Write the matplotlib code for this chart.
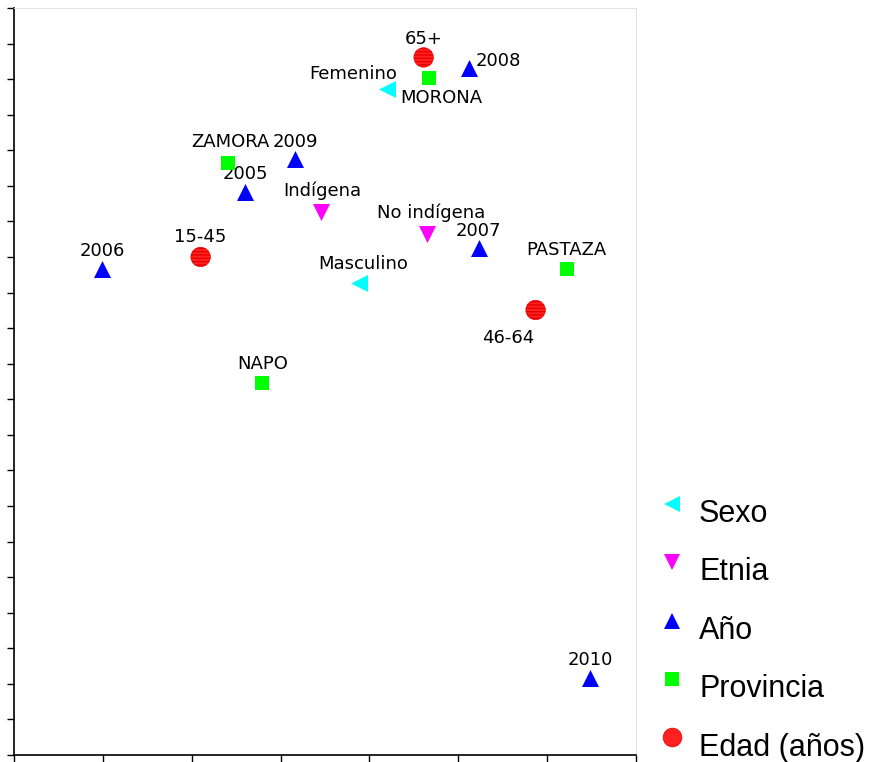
import matplotlib
matplotlib.use("Agg")
import matplotlib.pyplot as plt
from matplotlib.lines import Line2D

# ---- data ----
sexo_labels = ["Femenino", "Masculino"]
sexo_x = [4.20, 3.88]
sexo_y = [18.73, 13.27]

etnia_labels = ["Indígena", "No indígena"]
etnia_x = [3.45, 4.65]
etnia_y = [15.27, 14.65]

anio_labels = ["2005", "2006", "2007", "2008", "2009", "2010"]
anio_x = [2.60, 0.99, 5.23, 5.12, 3.16, 6.48]
anio_y = [15.83, 13.66, 14.25, 19.30, 16.76, 2.17]

prov_labels = ["MORONA", "NAPO", "PASTAZA", "ZAMORA"]
prov_x = [4.67, 2.79, 6.22, 2.41]
prov_y = [19.04, 10.45, 13.66, 16.65]

edad_labels = ["15-45", "46-64", "65+"]
edad_x = [2.10, 5.87, 4.61]
edad_y = [14.00, 12.51, 19.61]

legend_names = ["Sexo", "Etnia", "Año", "Provincia", "Edad (años)"]

# label offsets in pixels (style)
offsets = {
    "Femenino": (-34, 15), "Masculino": (4, 19),
    "Indígena": (2, 21), "No indígena": (4, 21),
    "2005": (0, 18), "2006": (0, 18), "2007": (0, 17), "2008": (29, 7),
    "2009": (1, 17), "2010": (1, 18),
    "MORONA": (12, -20), "NAPO": (1, 19), "PASTAZA": (0, 19), "ZAMORA": (2, 21),
    "15-45": (0, 20), "46-64": (-27, -28), "65+": (0, 18),
}

W, H = 869, 762
fig = plt.figure(figsize=(W / 100, H / 100), dpi=100)
ax = fig.add_axes([14 / W, 7 / H, (636 - 14) / W, (755 - 8) / H])
ax.set_xlim(0, 7)
ax.set_ylim(0, 21)
ax.set_xticks(range(0, 8))
ax.set_yticks(range(0, 22))
ax.set_xticklabels([])
ax.set_yticklabels([])
ax.tick_params(direction="out", length=5, width=1, colors="black")
for s in ["top", "right"]:
    ax.spines[s].set_color("#e2e2e2")
for s in ["left", "bottom"]:
    ax.spines[s].set_color("black")
    ax.spines[s].set_linewidth(1.2)

groups = [
    (sexo_labels, sexo_x, sexo_y, dict(marker="<", color="#00ffff", s=150, ms=12.2)),
    (etnia_labels, etnia_x, etnia_y, dict(marker="v", color="#ff00ff", s=150, ms=12.2)),
    (anio_labels, anio_x, anio_y, dict(marker="^", color="#0000ff", s=150, ms=12.2)),
    (prov_labels, prov_x, prov_y, dict(marker="s", color="#00ff00", s=112, ms=10.6)),
    (edad_labels, edad_x, edad_y, dict(marker="o", color="#ff2020", s=196, ms=13.5)),
]

for labels, xs, ys, st in groups:
    if st["marker"] == "o":
        ax.scatter(xs, ys, marker="o", s=st["s"], facecolor=st["color"],
                   edgecolor="#e80000", linewidths=0.5, hatch="-----", zorder=3)
    else:
        ax.scatter(xs, ys, marker=st["marker"], s=st["s"], color=st["color"],
                   linewidths=0, zorder=3)
    for lab, x, y in zip(labels, xs, ys):
        dx, dy = offsets[lab]
        ax.annotate(lab, (x, y), xytext=(dx, dy), textcoords="offset pixels",
                    ha="center", va="center", fontsize=13,
                    family="DejaVu Sans", color="black")

# manual legend (figure pixel positions)
for i, ((labels, xs, ys, st), name) in enumerate(zip(groups, legend_names)):
    my = 504 + 58.3 * i
    ty = 521.5 + 58.6 * i
    if st["marker"] == "o":
        fig.add_artist(Line2D([672 / W], [1 - my / H], transform=fig.transFigure,
                              linestyle="none", marker="o", markersize=st["ms"],
                              markerfacecolor=st["color"], markeredgecolor="#e80000",
                              markeredgewidth=0.5))
    else:
        fig.add_artist(Line2D([672 / W], [1 - my / H], transform=fig.transFigure,
                              linestyle="none", marker=st["marker"], markersize=st["ms"],
                              markerfacecolor=st["color"], markeredgecolor=st["color"],
                              markeredgewidth=0))
    fig.text(699 / W, 1 - ty / H, name, ha="left", va="baseline",
             family="Liberation Sans", fontsize=22, color="black")

fig.savefig("out.png", dpi=100)
